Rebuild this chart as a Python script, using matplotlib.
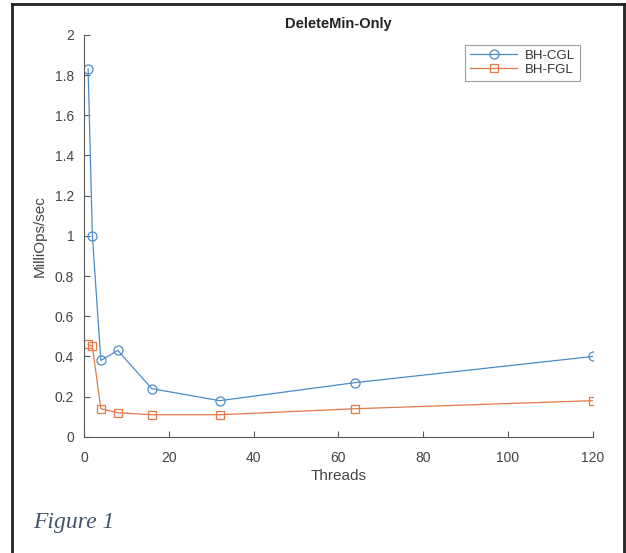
import matplotlib
matplotlib.use('Agg')
import matplotlib.pyplot as plt
from matplotlib.lines import Line2D

threads = [1, 2, 4, 8, 16, 32, 64, 120]
bh_cgl = [1.83, 1.00, 0.38, 0.43, 0.24, 0.18, 0.27, 0.40]
bh_fgl = [0.46, 0.45, 0.14, 0.12, 0.11, 0.11, 0.14, 0.18]

xticks = [0, 20, 40, 60, 80, 100, 120]
yticks = [0, 0.2, 0.4, 0.6, 0.8, 1, 1.2, 1.4, 1.6, 1.8, 2]

plt.rcParams['font.family'] = ['Liberation Sans', 'DejaVu Sans']
axcol = '#5a5a5a'

fig = plt.figure(figsize=(6.26, 5.53), dpi=100)
ax = fig.add_axes([0.134, 0.210, 0.813, 0.727])

ax.plot(threads, bh_cgl, '-o', color='#4a8cc8', lw=0.9, ms=6.5,
        mfc='none', mew=0.9, label='BH-CGL')
ax.plot(threads, bh_fgl, '-s', color='#e07848', lw=0.9, ms=6,
        mfc='none', mew=0.9, label='BH-FGL')

ax.set_xlim(0, 120)
ax.set_ylim(0, 2)
ax.set_xticks(xticks)
ax.set_yticks(yticks)
ax.set_yticklabels(['0', '0.2', '0.4', '0.6', '0.8', '1', '1.2', '1.4', '1.6', '1.8', '2'])

for s in ['top', 'right']:
    ax.spines[s].set_visible(False)
for s in ['left', 'bottom']:
    ax.spines[s].set_color(axcol)
    ax.spines[s].set_linewidth(0.8)
ax.tick_params(direction='in', length=4, width=0.8, colors=axcol,
               labelsize=10, labelcolor='#444444')
ax.tick_params(axis='x', pad=10)
ax.tick_params(axis='y', pad=7)

ax.set_title('DeleteMin-Only', fontsize=10.5, fontweight='bold', color='#222222', pad=5)
ax.set_xlabel('Threads', fontsize=11, color='#444444', labelpad=3)
ax.set_ylabel('MilliOps/sec', fontsize=11, color='#444444', labelpad=6)

leg = ax.legend(loc='upper right', bbox_to_anchor=(0.975, 0.975), borderaxespad=0,
                fontsize=9.5, frameon=True, fancybox=False, handlelength=3.6,
                borderpad=0.35, labelspacing=0.15, handletextpad=0.6)
leg.get_frame().set_edgecolor('#888888')
leg.get_frame().set_linewidth(0.8)
for t in leg.get_texts():
    t.set_color('#333333')

# document frame around the figure (no bottom edge)
frame_col = '#222222'
fig.add_artist(Line2D([12 / 626, 12 / 626], [0, 1 - 4 / 553], color=frame_col, lw=2))
fig.add_artist(Line2D([624 / 626, 624 / 626], [0, 1 - 4 / 553], color=frame_col, lw=2))
fig.add_artist(Line2D([12 / 626, 624 / 626], [1 - 4 / 553, 1 - 4 / 553], color=frame_col, lw=2))

fig.text(33 / 626, 1 - 528 / 553, 'Figure 1', fontsize=17, fontstyle='italic',
         family=['Liberation Serif', 'DejaVu Serif'], color='#44546a')

fig.savefig('out.png', dpi=100)
